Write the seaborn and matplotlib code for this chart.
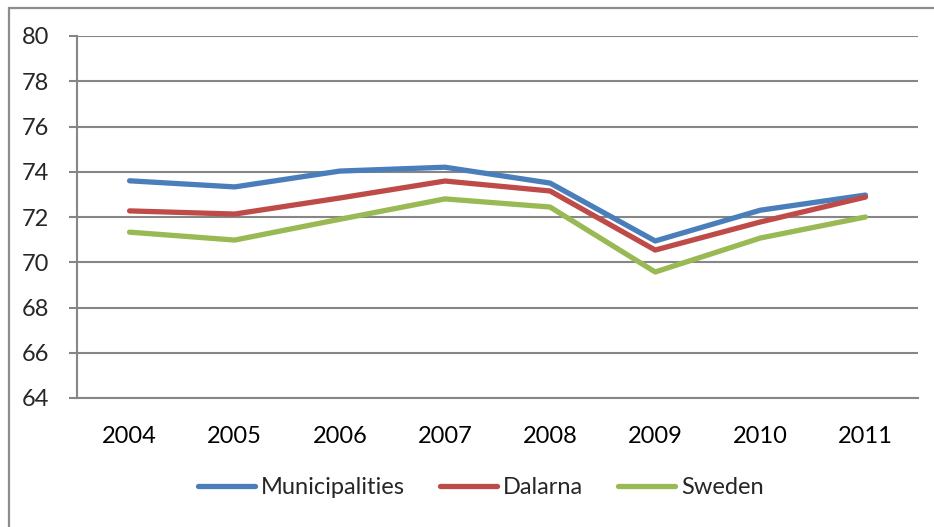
import matplotlib
matplotlib.use("Agg")
import matplotlib.pyplot as plt
from matplotlib.patches import Rectangle
import seaborn as sns
import pandas as pd

years = ["2004", "2005", "2006", "2007", "2008", "2009", "2010", "2011"]
municipalities = [73.6, 73.33, 74.03, 74.2, 73.5, 70.94, 72.3, 72.97]
dalarna = [72.27, 72.13, 72.84, 73.59, 73.15, 70.54, 71.78, 72.88]
sweden = [71.33, 70.98, 71.9, 72.8, 72.44, 69.57, 71.07, 72.0]
series_names = ["Municipalities", "Dalarna", "Sweden"]
y_ticks = [64, 66, 68, 70, 72, 74, 76, 78, 80]

colors = ["#4A7EBB", "#BE4B48", "#98B954"]

df = pd.DataFrame({
    "year": years * 3,
    "pos": list(range(len(years))) * 3,
    "value": municipalities + dalarna + sweden,
    "series": [s for s in series_names for _ in years],
})

sns.set_style("white")
plt.rcParams["font.family"] = ["Lato", "DejaVu Sans"]

W, H = 934, 527
fig = plt.figure(figsize=(W / 100, H / 100), dpi=100)
ax = fig.add_axes([77 / W, 1 - 398 / H, (918 - 77) / W, (398 - 36) / H])

grid_c = "#868686"
for t in y_ticks:
    ax.axhline(t, color=grid_c, lw=1.5, zorder=1)

sns.lineplot(data=df, x="pos", y="value", hue="series", palette=colors,
             hue_order=series_names, lw=3.8, ax=ax, legend=False, zorder=3,
             solid_capstyle="round", solid_joinstyle="round")

ax.set_xlim(-0.5, len(years) - 0.5)
ax.set_ylim(64, 80)
ax.set_yticks(y_ticks)
ax.set_yticklabels([str(t) for t in y_ticks])
ax.set_xticks(range(len(years)))
ax.set_xticklabels(years)
ax.set_xticks([i - 0.5 for i in range(len(years) + 1)], minor=True)
ax.tick_params(axis="x", which="major", length=0, pad=20, labelsize=17, colors="black")
ax.tick_params(axis="x", which="minor", length=6, width=1.5, color=grid_c, direction="out")
ax.tick_params(axis="y", which="major", length=6, width=1.5, color=grid_c,
               direction="out", pad=14, labelsize=17, left=True)
ax.set_xlabel("")
ax.set_ylabel("")

for side in ["top", "right"]:
    ax.spines[side].set_visible(False)
for side in ["left", "bottom"]:
    ax.spines[side].set_color(grid_c)
    ax.spines[side].set_linewidth(1.5)

# chart frame
fig.add_artist(Rectangle((9 / W, -0.1), 1.2, 1 - 8 / H + 0.1, transform=fig.transFigure,
                         fill=False, edgecolor="#8C8C8C", lw=1.6, zorder=0))

handles = [plt.Line2D([], [], color=c, lw=3.8, solid_capstyle="round") for c in colors]
fig.legend(handles, series_names, loc="center", bbox_to_anchor=(481 / W, 1 - 488 / H),
           ncol=3, frameon=False, fontsize=17, handlelength=2.4, handletextpad=0.25,
           columnspacing=1.5, borderaxespad=0)

fig.savefig("out.png", dpi=100)
